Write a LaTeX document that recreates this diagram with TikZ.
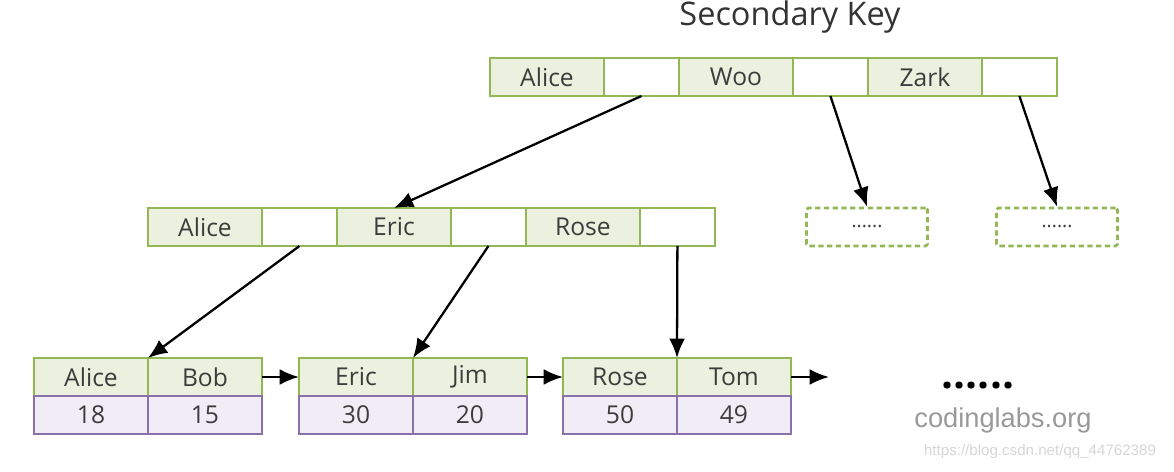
\documentclass[tikz,border=0pt]{standalone}
\usepackage{fontspec}
\setmainfont{Open Sans}
\newfontfamily\webfont{Liberation Sans}
\usetikzlibrary{arrows.meta,positioning}

\definecolor{keyline}{RGB}{146,183,84}
\definecolor{keyfill}{RGB}{235,241,222}
\definecolor{valline}{RGB}{139,112,170}
\definecolor{valfill}{RGB}{240,237,246}
\definecolor{celltext}{RGB}{60,60,60}

\tikzset{
  cell/.style={rectangle,draw,line width=1.5pt,outer sep=0pt,inner sep=0pt,minimum height=0.76cm,text=celltext,font=\fontsize{14}{16}\selectfont},
  keycell/.style={cell,draw=keyline,fill=keyfill,minimum width=2.28cm},
  ptrcell/.style={cell,draw=keyline,fill=white,minimum width=1.5cm},
  leafkey/.style={cell,draw=keyline,fill=keyfill,minimum width=2.28cm},
  leafval/.style={cell,draw=valline,fill=valfill,minimum width=2.28cm},
  morebox/.style={rectangle,draw=keyline,line width=1.5pt,dash pattern=on 3pt off 2pt,rounded corners=1pt,minimum width=2.42cm,minimum height=0.76cm,text=celltext,font=\fontsize{11}{12}\selectfont},
  link/.style={-{Latex[length=11pt,width=9pt]},line width=1.3pt}
}

\begin{document}
\begin{tikzpicture}[x=0.02cm,y=-0.02cm,node distance=0pt]
\useasboundingbox (0,0) rectangle (1174,472);

% Root node
\node (title) at (790,17) {\fontsize{18.5}{20}\selectfont\color{black!80} Secondary Key};
\node[keycell] (t1) at (547,77) {Alice};
\node[ptrcell,right=of t1] (t2) {};
\node[keycell,right=of t2] (t3) {Woo};
\node[ptrcell,right=of t3] (t4) {};
\node[keycell,right=of t4] (t5) {Zark};
\node[ptrcell,right=of t5] (t6) {};

% Second level
\node[keycell] (m1) at (205,227) {Alice};
\node[ptrcell,right=of m1] (m2) {};
\node[keycell,right=of m2] (m3) {Eric};
\node[ptrcell,right=of m3] (m4) {};
\node[keycell,right=of m4] (m5) {Rose};
\node[ptrcell,right=of m5] (m6) {};

\node[morebox] (d1) at (867,227) {......};
\node[morebox] (d2) at (1057,227) {......};

% Leaves
\node[leafkey] (b1a) at (91,377) {Alice};
\node[leafkey,right=of b1a] (b1b) {Bob};
\node[leafval,below=of b1a] (v1a) {18};
\node[leafval,below=of b1b] (v1b) {15};

\node[leafkey] (b2a) at (356,377) {Eric};
\node[leafkey,right=of b2a] (b2b) {Jim};
\node[leafval,below=of b2a] (v2a) {30};
\node[leafval,below=of b2b] (v2b) {20};

\node[leafkey] (b3a) at (620,377) {Rose};
\node[leafkey,right=of b3a] (b3b) {Tom};
\node[leafval,below=of b3a] (v3a) {50};
\node[leafval,below=of b3b] (v3b) {49};

\coordinate (tail) at (829,377);

\node (more) at (978,386) {\fontsize{24}{24}\selectfont\bfseries ......};
\node (site) at (1003,420) {\webfont\fontsize{15.5}{16}\selectfont\color{black!40} codinglabs.org};
\node (mark) at (1040,452) {\webfont\fontsize{8.6}{9}\selectfont\color{black!16} https://blog.csdn.net/qq\_44762389};

% Pointers
\draw[link] (t2.south) -- (m3.north);
\draw[link] (t4.south) -- (d1.north);
\draw[link] (t6.south) -- (d2.north);
\draw[link] (m2.south) -- (b1a.north east);
\draw[link] (m4.south) -- (b2a.north east);
\draw[link] (m6.south) -- (b3a.north east);
\draw[link] (b1b.east) -- (b2a.west);
\draw[link] (b2b.east) -- (b3a.west);
\draw[link] (b3b.east) -- (tail);
\end{tikzpicture}
\end{document}
